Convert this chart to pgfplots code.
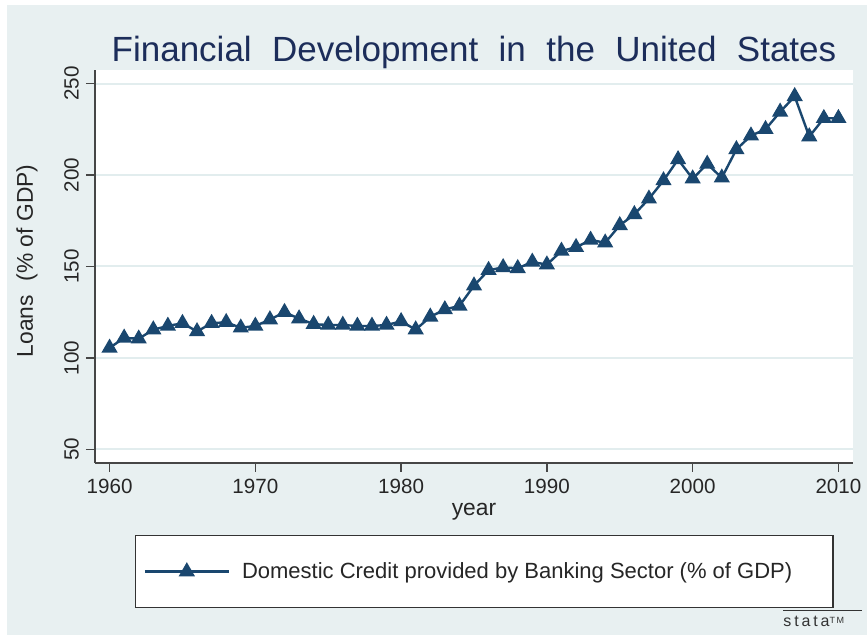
\documentclass[border=0pt]{standalone}
\usepackage{pgfplots}
\pgfplotsset{compat=1.18}
\usepackage{fontspec}
\setmainfont{Liberation Sans}
\definecolor{stbg}{RGB}{232,240,241}
\definecolor{stgrid}{RGB}{226,237,238}
\definecolor{stnavy}{RGB}{26,71,111}
\definecolor{sttitle}{RGB}{28,45,90}
\definecolor{staxis}{RGB}{70,70,70}

\begin{document}
\begin{tikzpicture}
% page and Stata background (1px = 0.5pt)
\fill[white] (-47.5pt,-86pt) rectangle (386pt,231.5pt);
\fill[stbg] (-44pt,-86pt) rectangle (386pt,229pt);
\useasboundingbox (-47.5pt,-86pt) rectangle (386pt,231.5pt);

\begin{axis}[
  at={(0pt,0pt)}, anchor=south west,
  scale only axis, width=379pt, height=196.5pt,
  xmin=1959, xmax=2011, ymin=42.6, ymax=257.4,
  axis x line*=bottom, axis y line*=left,
  axis line style={-, staxis, line width=0.8pt},
  axis background/.style={fill=white},
  xtick={1960,1970,...,2010}, ytick={50,100,...,250},
  tick align=outside, major tick length=4.5pt,
  tick style={staxis, line width=0.7pt},
  ymajorgrids, grid style={stgrid, line width=1pt},
  tick label style={font=\fontsize{10.3}{12}\selectfont, text=black!85},
  /pgf/number format/assume math mode=true,
  /pgf/number format/1000 sep={},
  yticklabel style={rotate=90, anchor=south},
  xlabel={year}, ylabel={Loans\hspace{7pt}(\% of GDP)},
  label style={font=\fontsize{11.4}{13}\selectfont, text=black!85},
  xlabel style={at={(rel axis cs:0.5,-0.1247)}, anchor=center},
  ylabel style={at={(rel axis cs:-0.0897,0.514)}, anchor=center},
  legend style={at={(rel axis cs:0.0528,-0.183)}, anchor=north west,
    draw=black!80, fill=white, line width=0.6pt,
    inner xsep=4pt, inner ysep=11.3pt,
    font=\fontsize{11}{13}\selectfont, text=black!85},
  legend cell align=left,
  legend image code/.code={\draw[mark repeat=2,mark phase=2]
    plot coordinates {(0pt,0pt) (21pt,0pt) (42pt,0pt)};},
]
\addplot[stnavy, line width=1.2pt, mark=triangle*, mark size=3.5pt,
  mark options={solid}] coordinates {
(1960,105.5) (1961,111) (1962,110.5) (1963,115.5) (1964,117.5)
(1965,119) (1966,114.5) (1967,119) (1968,119.5) (1969,116.5)
(1970,117.5) (1971,121) (1972,125) (1973,121.5) (1974,118.5)
(1975,118) (1976,118) (1977,117.5) (1978,117.5) (1979,118)
(1980,120) (1981,115.5) (1982,122.5) (1983,126.5) (1984,128.5)
(1985,139.5) (1986,148) (1987,149.5) (1988,149) (1989,152.5)
(1990,151) (1991,158.5) (1992,160.5) (1993,164.5) (1994,163)
(1995,172.5) (1996,178.5) (1997,187) (1998,197) (1999,208.5)
(2000,198) (2001,206) (2002,198.5) (2003,214) (2004,221.5)
(2005,225) (2006,234.5) (2007,243) (2008,221) (2009,231)
(2010,231)
};
\legend{\makebox[293.5pt][l]{\hspace{4pt}Domestic Credit provided by Banking Sector (\% of GDP)}}
\end{axis}

% title
\node[anchor=base, text=sttitle, font=\fontsize{17.5}{20}\selectfont, inner sep=0pt]
  at (189.5pt,200.5pt)
  {Financial\hspace{10.2pt}Development\hspace{10.2pt}in\hspace{10.2pt}the\hspace{10.2pt}United\hspace{10.2pt}States};

% Stata logo
\draw[black!80, line width=0.5pt] (344pt,-74pt) -- (383.5pt,-74pt);
\node[anchor=west, inner sep=0pt, text=black!80] at (344pt,-79pt)
  {\fontsize{8}{8}\selectfont\addfontfeatures{LetterSpace=18}stata\raisebox{1.2pt}{\fontsize{4.5}{5}\selectfont TM}};
\end{tikzpicture}
\end{document}
